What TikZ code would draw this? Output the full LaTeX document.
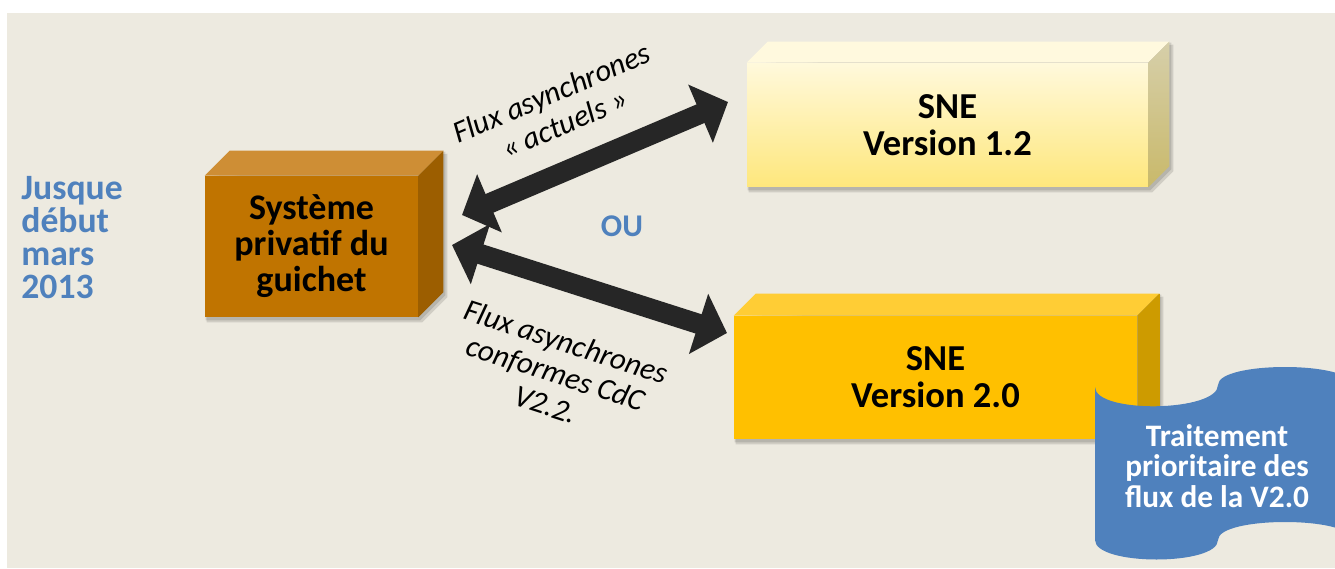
\documentclass[tikz,border=0pt]{standalone}
\usepackage{fontspec}
\setmainfont{Carlito}
\usetikzlibrary{arrows.meta,calc,positioning}
\definecolor{fondBeige}{HTML}{EDEAE0}
\definecolor{texteBleu}{HTML}{4F81BD}
\definecolor{flecheNoire}{HTML}{262626}
\definecolor{guichetFace}{HTML}{C07400}
\definecolor{guichetHaut}{HTML}{CE8E35}
\definecolor{guichetCote}{HTML}{9C5E00}
\definecolor{sneUnFaceHaut}{HTML}{FFF9DC}
\definecolor{sneUnFaceBas}{HTML}{FEE77C}
\definecolor{sneUnHaut}{HTML}{FFF9DE}
\definecolor{sneUnCoteHaut}{HTML}{D6CFAA}
\definecolor{sneUnCoteBas}{HTML}{C9B96A}
\definecolor{sneDeuxFace}{HTML}{FFC000}
\definecolor{sneDeuxHaut}{HTML}{FFCD35}
\definecolor{sneDeuxCote}{HTML}{CD9B00}
\definecolor{bandeBleu}{HTML}{4F81BD}

\pgfdeclarelayer{fond}
\pgfsetlayers{fond,main}

\tikzset{
  boite/.style={inner sep=0pt, align=center, text=black,
    font=\bfseries\fontsize{20.8}{21}\selectfont},
  flux/.style={flecheNoire, line width=11.5pt,
    {Triangle[length=17pt,width=35pt]}-{Triangle[length=17pt,width=35pt]}},
  etiquette/.style={inner sep=0pt, align=center,
    font=\itshape\fontsize{17.5}{18.8}\selectfont},
  bleu/.style={inner sep=0pt, text=texteBleu,
    font=\bfseries\fontsize{18}{18}\selectfont}
}

\begin{document}
\begin{tikzpicture}[x=0.02cm,y=-0.02cm]

  \useasboundingbox (0,0) rectangle (1335,568);
  \clip (0,0) rectangle (1335,568);
  \begin{pgfonlayer}{fond}
    \fill[white] (0,0) rectangle (1335,568);
    \fill[fondBeige] (7,13) rectangle (1335,568);
  \end{pgfonlayer}

  % the three boxes (front faces)
  \node[boite, fill=guichetFace, minimum width=4.26cm, minimum height=2.82cm,
    font=\bfseries\fontsize{20.5}{20.5}\selectfont]
    (guichet) at (311.5,246.5) {Système\\privatif du\\guichet};
  \node[boite, top color=sneUnFaceHaut, bottom color=sneUnFaceBas,
    minimum width=8.02cm, minimum height=2.48cm]
    (sneUn) at (947.5,125) {SNE\\Version 1.2};
  \node[boite, fill=sneDeuxFace, minimum width=8.06cm, minimum height=2.46cm]
    (sneDeux) at (935.5,377.5) {SNE\\Version 2.0};

  % top and side faces, with shadow
  \foreach \boite/\prof/\haut/\coteA/\coteB in
    {guichet/25/guichetHaut/guichetCote/guichetCote,
     sneUn/21/sneUnHaut/sneUnCoteHaut/sneUnCoteBas,
     sneDeux/22/sneDeuxHaut/sneDeuxCote/sneDeuxCote}
  {
    \begin{pgfonlayer}{fond}
      \fill[black,opacity=.12] ($(\boite.north west)+(2,3)$) -- ($(\boite.south west)+(2,5)$)
        -- ($(\boite.south east)+(4,5)$) -- ($(\boite.south east)+(\prof+4,-\prof+5)$)
        -- ($(\boite.north east)+(\prof+4,-\prof+3)$) -- cycle;
      \fill[black,opacity=.12] ($(\boite.north west)+(1,1)$) -- ($(\boite.south west)+(1,3)$)
        -- ($(\boite.south east)+(2,3)$) -- ($(\boite.south east)+(\prof+2,-\prof+3)$)
        -- ($(\boite.north east)+(\prof+2,-\prof+1)$) -- cycle;
    \end{pgfonlayer}
    \fill[\haut] (\boite.north west) -- ++(\prof,-\prof)
      -- ($(\boite.north east)+(\prof,-\prof)$) -- (\boite.north east) -- cycle;
    \shade[top color=\coteA, bottom color=\coteB] (\boite.north east) -- ++(\prof,-\prof)
      -- ($(\boite.south east)+(\prof,-\prof)$) -- (\boite.south east) -- cycle;
  }

  % wave banner
  \fill[bandeBleu] (1095,387) .. controls (1095,414) and (1218,412) .. (1218,385)
    .. controls (1218,361) and (1352,361) .. (1352,385)
    -- (1352,540) .. controls (1352,516) and (1218,516) .. (1218,540)
    .. controls (1218,566) and (1095,566) .. (1095,540) -- cycle;
  \node[inner sep=0pt, align=center, text=white,
    font=\bfseries\fontsize{17.8}{17.5}\selectfont]
    (bande) at (1217,466) {Traitement\\prioritaire des\\flux de la V2.0};

  % arrows
  \coordinate (gUn) at (462,215);
  \coordinate (dUn) at (728,102);
  \coordinate (gDeux) at (452,245);
  \coordinate (dDeux) at (727,333);
  \draw[flux] (gUn) -- (dUn);
  \draw[flux] (gDeux) -- (dDeux);

  % labels
  \node[etiquette, rotate=23] (txtActuels) at (558,108) {Flux asynchrones\\« actuels »};
  \node[etiquette, rotate=-18] (txtConformes) at (556,373)
    {Flux asynchrones\\conformes CdC\\V2.2.};
  \node[bleu] (ou) at (622,226) {OU};
  \node[bleu, align=left, anchor=north west, font=\bfseries\fontsize{20.3}{18.8}\selectfont]
    (periode) at (21,176) {Jusque\\début\\mars\\2013};

\end{tikzpicture}
\end{document}
